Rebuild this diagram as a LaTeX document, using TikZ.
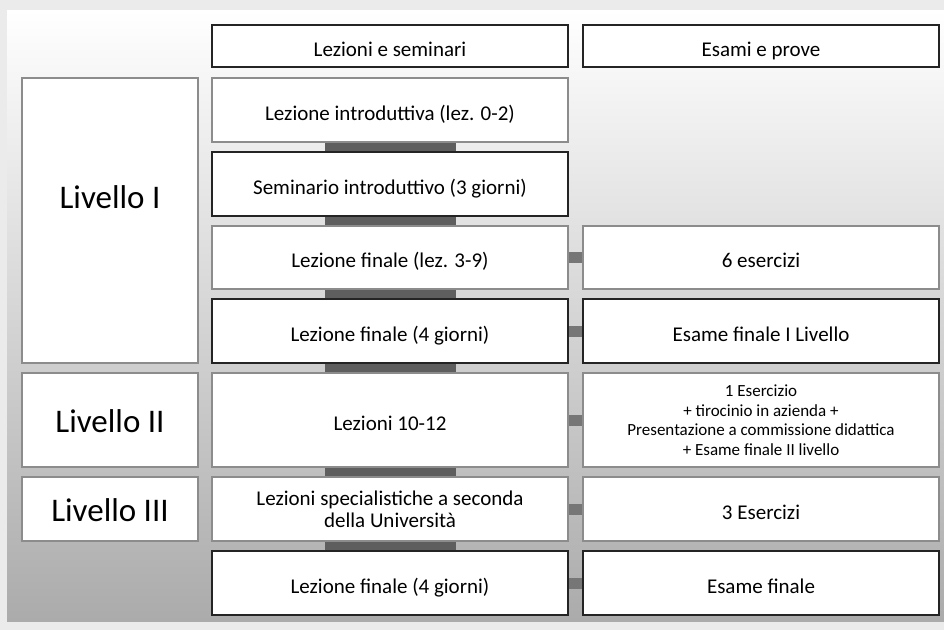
\documentclass[tikz,border=0pt]{standalone}
\usepackage{fontspec}
\setmainfont{Carlito}
\usetikzlibrary{positioning}
\definecolor{framegray}{HTML}{EBEBEB}
\definecolor{panelgray}{HTML}{ABABAB}
\definecolor{lightline}{HTML}{8C8C8C}
\definecolor{darkline}{HTML}{242424}
\definecolor{linkgray}{HTML}{5E5E5E}

\begin{document}
\begin{tikzpicture}[
    x=1pt, y=-1pt,
    node distance=10pt and 15pt,
    cell/.style={rectangle, draw=lightline, line width=1.6pt, fill=white, outer sep=0pt,
                 minimum width=356pt, minimum height=64pt, inner sep=0pt,
                 text height=23pt, text depth=3pt,
                 align=center, font=\fontsize{21}{22}\selectfont},
    darkcell/.style={cell, draw=darkline},
    head/.style={darkcell, minimum height=42pt},
    level/.style={cell, minimum width=176pt, text height=27pt, text depth=3pt,
                  font=\fontsize{33}{35}\selectfont},
    multi/.style={text height=, text depth=},
    small/.style={multi, font=\fontsize{17}{19.5}\selectfont},
    vlink/.style={draw=linkgray, line width=131pt, shorten <=1pt, shorten >=1pt},
    hlink/.style={draw=linkgray!85!white, line width=11pt, shorten <=1pt, shorten >=1pt}
  ]
  % Background panel
  \useasboundingbox (0,0) rectangle (944,630);
  \fill[framegray] (0,0) rectangle (944,630);
  \shade[top color=white, bottom color=panelgray] (7,10) rectangle (944,621);

  % Column headers
  \node[head] (hdrL) at (390,46) {Lezioni e seminari};
  \node[head, right=of hdrL] (hdrR) {Esami e prove};

  % Lessons column
  \node[cell] (r1) at (390,110) {Lezione introduttiva (lez. 0-2)};
  \node[darkcell, below=of r1] (r2) {Seminario introduttivo (3 giorni)};
  \node[cell, below=of r2, minimum height=63pt] (r3) {Lezione finale (lez. 3-9)};
  \node[darkcell, below=of r3] (r4) {Lezione finale (4 giorni)};
  \node[cell, below=of r4, minimum height=94pt] (r5) {Lezioni 10-12};
  \node[cell, multi, below=of r5] (r6) {Lezioni specialistiche a seconda\\della Università};
  \node[darkcell, below=of r6] (r7) {Lezione finale (4 giorni)};

  % Exams column
  \node[cell, right=of r3, minimum height=63pt] (e3) {6 esercizi};
  \node[darkcell, right=of r4] (e4) {Esame finale I Livello};
  \node[cell, small, right=of r5, minimum height=94pt] (e5)
    {1 Esercizio\\+ tirocinio in azienda +\\Presentazione a commissione didattica\\+ Esame finale II livello};
  \node[cell, right=of r6] (e6) {3 Esercizi};
  \node[darkcell, right=of r7] (e7) {Esame finale};

  % Levels
  \node[level, minimum height=285pt, text height=23pt, text depth=48pt,
        left=14pt of r1.north west, anchor=north east] (lvl1) {Livello I};
  \node[level, minimum height=94pt, left=14pt of r5] (lvl2) {Livello II};
  \node[level, left=14pt of r6] (lvl3) {Livello III};

  % Links
  \foreach \a/\b in {r1/r2, r2/r3, r3/r4, r4/r5, r5/r6, r6/r7}
    \draw[vlink] (\a) -- (\b);
  \foreach \i in {3,...,7}
    \draw[hlink] (r\i) -- (e\i);
\end{tikzpicture}
\end{document}
